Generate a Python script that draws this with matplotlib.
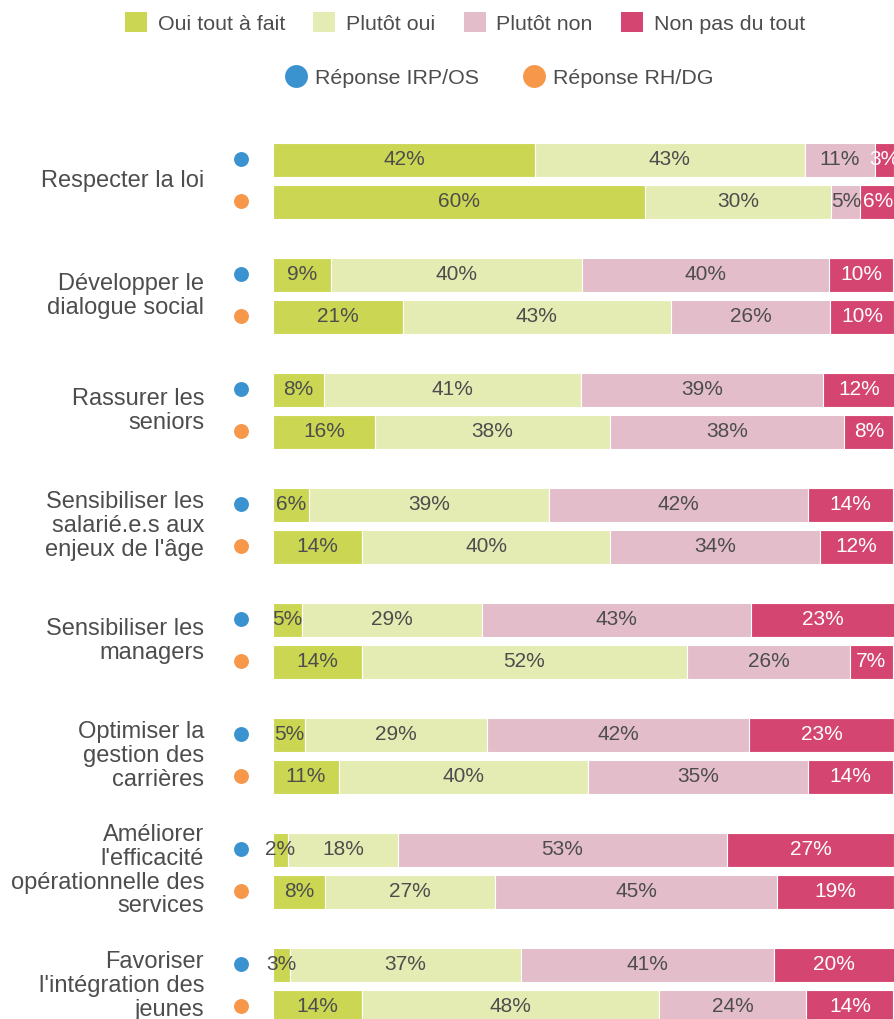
import numpy as np
import matplotlib
matplotlib.use("Agg")
import matplotlib.pyplot as plt
from matplotlib.patches import Patch
from matplotlib.lines import Line2D

plt.rcParams['font.family'] = ['Liberation Sans', 'DejaVu Sans']

categories = [
    "Respecter la loi",
    "Développer le\ndialogue social",
    "Rassurer les\nseniors",
    "Sensibiliser les\nsalarié.e.s aux\nenjeux de l'âge",
    "Sensibiliser les\nmanagers",
    "Optimiser la\ngestion des\ncarrières",
    "Améliorer\nl'efficacité\nopérationnelle des\nservices",
    "Favoriser\nl'intégration des\njeunes",
]
answers = ["Oui tout à fait", "Plutôt oui", "Plutôt non", "Non pas du tout"]
groups = ["Réponse IRP/OS", "Réponse RH/DG"]

# % per answer
irp_os = [
    [42.2, 43.4, 11.3, 3.1],
    [9.3, 40.4, 39.9, 10.3],
    [8.2, 41.4, 39.0, 11.6],
    [5.8, 38.6, 41.7, 13.8],
    [4.7, 29.0, 43.2, 23.2],
    [5.2, 29.3, 42.2, 23.3],
    [2.4, 17.7, 53.0, 26.9],
    [2.7, 37.2, 40.7, 19.6],
]
rh_dg = [
    [59.9, 30.0, 4.7, 5.6],
    [20.9, 43.2, 25.6, 10.3],
    [16.4, 37.8, 37.8, 7.9],
    [14.4, 39.9, 33.8, 11.8],
    [14.3, 52.4, 26.2, 6.9],
    [10.6, 40.1, 35.4, 13.8],
    [8.4, 27.4, 45.4, 18.8],
    [14.3, 47.8, 23.8, 14.0],
]

seg_colors = ["#cbd653", "#e5ecb3", "#e3bdca", "#d44671"]
txt_colors = ["#4d4d4d", "#4d4d4d", "#4d4d4d", "white"]
dot_colors = ["#3a93cf", "#f7974a"]
grey = "#4d4d4d"

fig = plt.figure(figsize=(8.94, 10.19), dpi=100)
ax = fig.add_axes([273 / 894, 0, 1 - 273 / 894, 1])

n = len(categories)
offset = 0.365
bar_h = 0.296
ypos = np.arange(n)

for data, off, dcol in [(irp_os, 0.0, dot_colors[0]), (rh_dg, offset, dot_colors[1])]:
    vals = np.array(data)
    left = np.zeros(n)
    for k in range(4):
        ax.barh(ypos + off, vals[:, k], left=left, height=bar_h,
                color=seg_colors[k], edgecolor="white", linewidth=0.8)
        for i in range(n):
            ax.text(left[i] + vals[i, k] / 2, ypos[i] + off, f"{vals[i, k]:.0f}%",
                    ha="center", va="center", fontsize=15, color=txt_colors[k])
        left += vals[:, k]
    ax.scatter(np.full(n, -5.1), ypos + off - 0.01, s=115, color=dcol,
               linewidths=0, clip_on=False, zorder=3)

for i, cat in enumerate(categories):
    ax.text(-11.1, ypos[i] + offset / 2, cat, ha="right", va="center",
            multialignment="right", fontsize=17, color=grey, linespacing=1.1)

ax.set_xlim(0, 100)
ax.set_ylim(7.47, -1.391)
ax.axis("off")

h1 = [Patch(facecolor=c, edgecolor="none") for c in seg_colors]
fig.legend(h1, answers, loc="center", bbox_to_anchor=(465 / 894, 1 - 23 / 1019),
           ncol=4, frameon=False, fontsize=15.4, handlelength=1.03, handleheight=1.03,
           handletextpad=0.51, columnspacing=1.31, labelcolor=grey,
           borderpad=0, borderaxespad=0)
h2 = [Line2D([], [], marker="o", linestyle="none", markersize=16.5, color=c,
             markeredgewidth=0) for c in dot_colors]
fig.legend(h2, groups, loc="center", bbox_to_anchor=(499 / 894, 1 - 78 / 1019),
           ncol=2, frameon=False, fontsize=15.4, handlelength=1.07,
           handletextpad=0.37, columnspacing=2.0, labelcolor=grey,
           borderpad=0, borderaxespad=0)

fig.savefig("out.png", dpi=100)
